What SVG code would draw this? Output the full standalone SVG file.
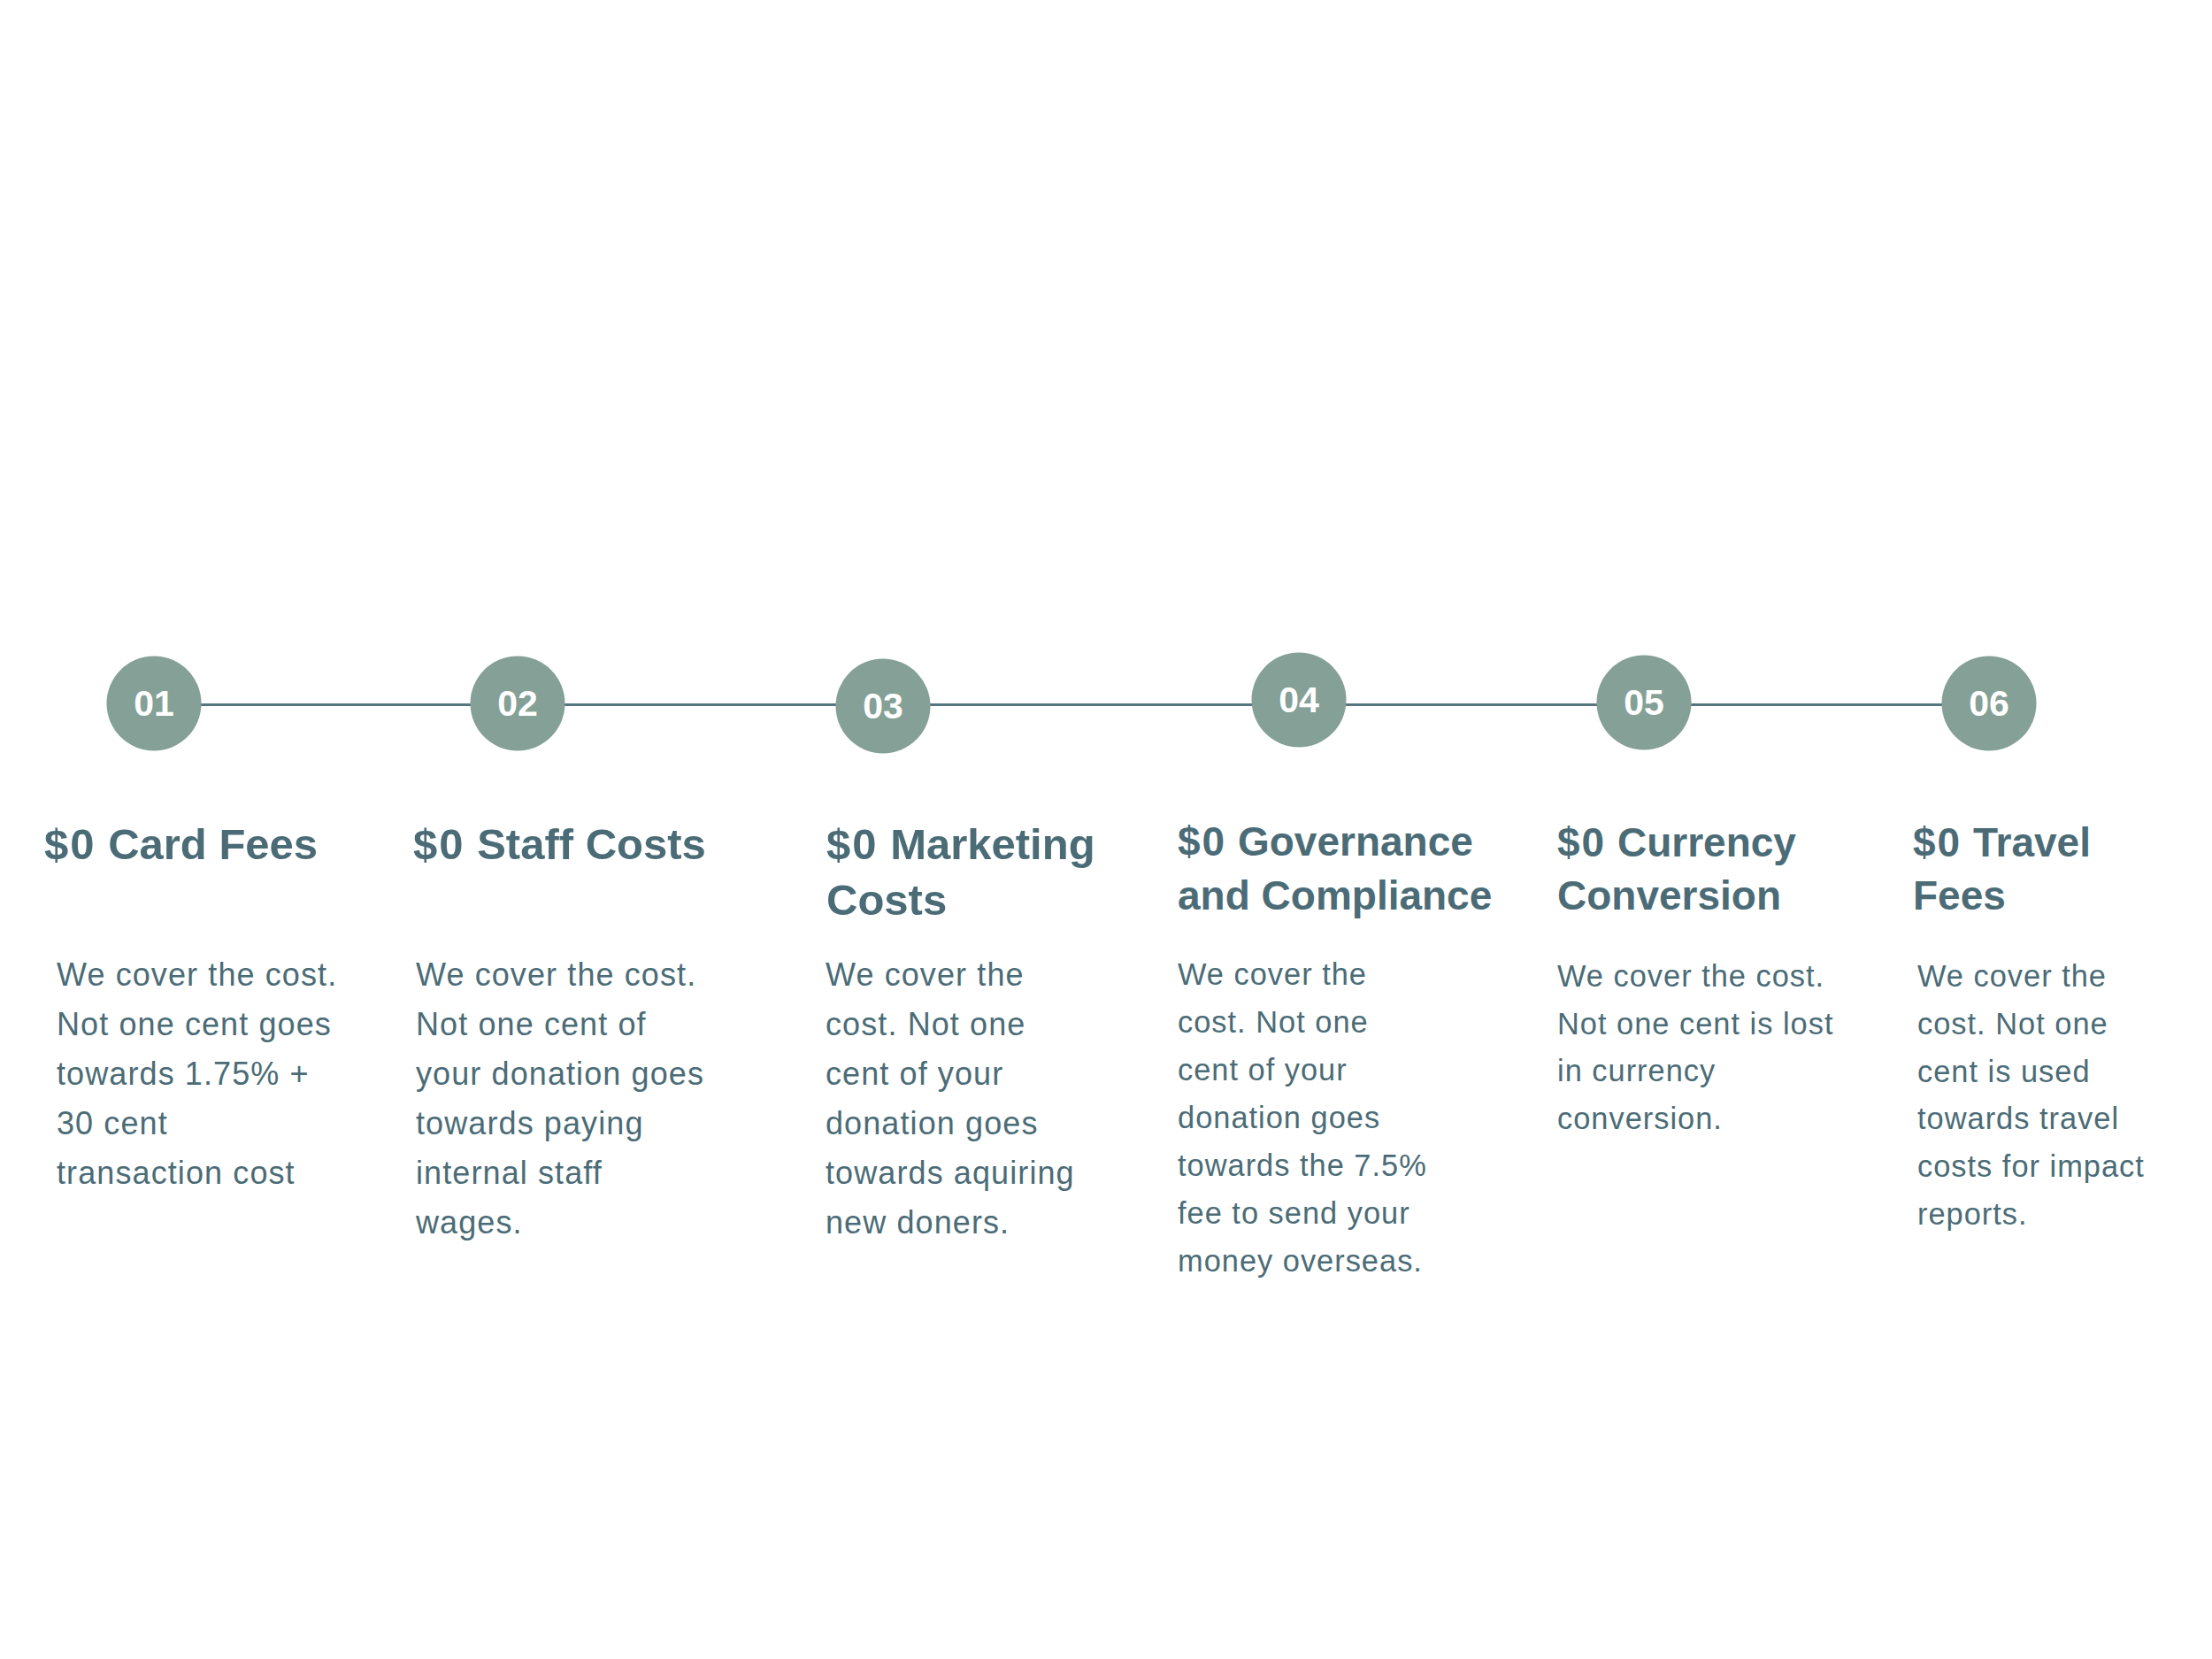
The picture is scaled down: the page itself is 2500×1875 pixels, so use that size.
<svg xmlns="http://www.w3.org/2000/svg" width="2500" height="1875" viewBox="0 0 2500 1875">
<style>
.bg{fill:#ffffff}
.dot{fill:#84a097}
.num{font-family:"Liberation Sans",Arial,sans-serif;font-weight:700;font-size:41px;fill:#ffffff;text-anchor:middle}
.h1{font-family:"Liberation Sans",Arial,sans-serif;font-weight:700;font-size:49px;fill:#4b6c77}
.h2{font-family:"Liberation Sans",Arial,sans-serif;font-weight:700;font-size:46px;fill:#4b6c77}
.b1{font-family:"Liberation Sans",Arial,sans-serif;font-size:36px;letter-spacing:1.1px;fill:#4b6c77}
.b2{font-family:"Liberation Sans",Arial,sans-serif;font-size:34.4px;letter-spacing:1px;fill:#4b6c77}
.d{letter-spacing:2px}
.conn{stroke:#56767f;stroke-width:3;fill:none}
</style>
<rect class="bg" x="0" y="0" width="2500" height="1875"/>
<g id="connectors">
<line class="conn" x1="174" y1="796.5" x2="2248" y2="796.5"/>
</g>
<g id="node-01">
<circle class="dot" cx="174" cy="795" r="53.5"/>
<text class="num" x="174" y="809">01</text>
<text class="h1" x="50" y="971"><tspan class="d">$0</tspan> Card Fees</text>
<text class="b1" x="64" y="1114">
<tspan x="64" y="1114">We cover the cost.</tspan>
<tspan x="64" y="1170">Not one cent goes</tspan>
<tspan x="64" y="1226">towards 1.75% +</tspan>
<tspan x="64" y="1282">30 cent</tspan>
<tspan x="64" y="1338">transaction cost</tspan>
</text>
</g>
<g id="node-02">
<circle class="dot" cx="585" cy="795" r="53.5"/>
<text class="num" x="585" y="809">02</text>
<text class="h1" x="467" y="971"><tspan class="d">$0</tspan> Staff Costs</text>
<text class="b1" x="470" y="1114">
<tspan x="470" y="1114">We cover the cost.</tspan>
<tspan x="470" y="1170">Not one cent of</tspan>
<tspan x="470" y="1226">your donation goes</tspan>
<tspan x="470" y="1282">towards paying</tspan>
<tspan x="470" y="1338">internal staff</tspan>
<tspan x="470" y="1394">wages.</tspan>
</text>
</g>
<g id="node-03">
<circle class="dot" cx="998" cy="798" r="53.5"/>
<text class="num" x="998" y="812">03</text>
<text class="h1" x="934" y="971"><tspan class="d">$0</tspan> Marketing<tspan x="934" y="1034">Costs</tspan></text>
<text class="b1" x="933" y="1114">
<tspan x="933" y="1114">We cover the</tspan>
<tspan x="933" y="1170">cost. Not one</tspan>
<tspan x="933" y="1226">cent of your</tspan>
<tspan x="933" y="1282">donation goes</tspan>
<tspan x="933" y="1338">towards aquiring</tspan>
<tspan x="933" y="1394">new doners.</tspan>
</text>
</g>
<g id="node-04">
<circle class="dot" cx="1468" cy="791" r="53.5"/>
<text class="num" x="1468" y="805">04</text>
<text class="h2" x="1331" y="967"><tspan class="d">$0</tspan> Governance<tspan x="1331" y="1028">and Compliance</tspan></text>
<text class="b2" x="1331" y="1113">
<tspan x="1331" y="1113">We cover the</tspan>
<tspan x="1331" y="1167">cost. Not one</tspan>
<tspan x="1331" y="1221">cent of your</tspan>
<tspan x="1331" y="1275">donation goes</tspan>
<tspan x="1331" y="1329">towards the 7.5%</tspan>
<tspan x="1331" y="1383">fee to send your</tspan>
<tspan x="1331" y="1437">money overseas.</tspan>
</text>
</g>
<g id="node-05">
<circle class="dot" cx="1858" cy="794" r="53.5"/>
<text class="num" x="1858" y="808">05</text>
<text class="h2" x="1760" y="968"><tspan class="d">$0</tspan> Currency<tspan x="1760" y="1028">Conversion</tspan></text>
<text class="b2" x="1760" y="1115">
<tspan x="1760" y="1115">We cover the cost.</tspan>
<tspan x="1760" y="1169">Not one cent is lost</tspan>
<tspan x="1760" y="1222">in currency</tspan>
<tspan x="1760" y="1276">conversion.</tspan>
</text>
</g>
<g id="node-06">
<circle class="dot" cx="2248" cy="795" r="53.5"/>
<text class="num" x="2248" y="809">06</text>
<text class="h2" x="2162" y="968"><tspan class="d">$0</tspan> Travel<tspan x="2162" y="1028">Fees</tspan></text>
<text class="b2" x="2167" y="1115">
<tspan x="2167" y="1115">We cover the</tspan>
<tspan x="2167" y="1169">cost. Not one</tspan>
<tspan x="2167" y="1223">cent is used</tspan>
<tspan x="2167" y="1276">towards travel</tspan>
<tspan x="2167" y="1330">costs for impact</tspan>
<tspan x="2167" y="1384">reports.</tspan>
</text>
</g>
</svg>
